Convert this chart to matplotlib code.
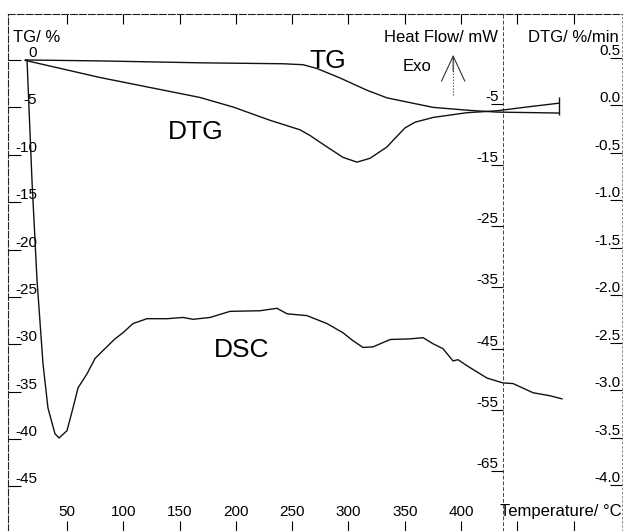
import matplotlib
matplotlib.use("Agg")
import matplotlib.pyplot as plt

plt.rcParams['font.family'] = ['Liberation Sans', 'DejaVu Sans']
plt.rcParams['axes.unicode_minus'] = False

# TG: mass change (%) vs temperature (°C)
tg_temp = [13, 79.3, 168.1, 241.8, 259.6, 272.0, 292.5, 316.5, 334.2, 354.6,
           375.1, 405.3, 431.9, 487.0]
tg_mass = [0.0, -0.1, -0.3, -0.4, -0.5, -0.9, -1.9, -3.2, -4.0, -4.5,
           -5.0, -5.3, -5.5, -5.6]

# DTG: %/min
dtg_temp = [13, 79.3, 168.1, 197.4, 230.3, 256.9, 265.8, 280.9, 295.1, 307.5,
            319.1, 334.2, 341.3, 350.2, 359.1, 375.1, 405.3, 431.9, 458.5, 487.0]
dtg_rate = [0.47, 0.29, 0.08, -0.02, -0.16, -0.26, -0.32, -0.44, -0.55, -0.60,
            -0.56, -0.44, -0.35, -0.24, -0.18, -0.13, -0.08, -0.06, -0.02, 0.02]

# DSC: heat flow (mW)
dsc_temp = [14.5, 18.9, 23.4, 28.7, 33.1, 39.3, 42.9, 50.0, 55.3, 59.8,
            67.8, 74.9, 82.0, 92.6, 99.7, 108.6, 121.0, 138.8, 153.0, 161.9,
            177.0, 194.8, 221.4, 236.5, 245.4, 263.1, 280.9, 295.1, 304.0, 312.9,
            321.8, 337.0, 354.6, 366.2, 375.1, 383.9, 392.8, 397.3, 405.3, 423.0,
            437.2, 446.1, 463.9, 479.0, 489.6]
dsc_flow = [2.2, -17.5, -33.9, -47.5, -54.7, -58.9, -59.6, -58.4, -54.7, -51.4,
            -49.1, -46.6, -45.3, -43.4, -42.4, -40.9, -40.1, -40.1, -39.9, -40.2,
            -39.9, -38.9, -38.8, -38.4, -39.3, -39.6, -40.9, -42.4, -43.7, -44.8,
            -44.7, -43.5, -43.4, -43.2, -44.2, -45.0, -47.0, -46.8, -47.8, -49.8,
            -50.6, -50.7, -52.2, -52.7, -53.2]

# end-of-run marker (TG scale)
end_temp = 487.0
end_lo, end_hi = -5.8, -3.9

x_ticks = [50, 100, 150, 200, 250, 300, 350, 400, 450, 500]
x_labels = ['50', '100', '150', '200', '250', '300', '350', '400', '', '']
tg_ticks = [0, -5, -10, -15, -20, -25, -30, -35, -40, -45]
hf_ticks = [-5, -15, -25, -35, -45, -55, -65]
dtg_ticks = [0.5, 0.0, -0.5, -1.0, -1.5, -2.0, -2.5, -3.0, -3.5, -4.0]

fig = plt.figure(figsize=(6.25, 5.31), dpi=100)
ax = fig.add_axes([8/625, 0, 614/625, 517/531])
ax2 = ax.twinx()
ax3 = ax.twinx()

frame = dict(color='#222222', linewidth=0.8, linestyle=(0, (6, 2)))
lc = '#111111'
lw = 1.0

# main axis: temperature + TG
ax.set_xlim(-2.4, 542.9)
ax.set_ylim(-49.7, 4.85)
ax.plot(tg_temp, tg_mass, color=lc, lw=lw)
ax.vlines(end_temp, end_lo, end_hi, color=lc, lw=lw)
for s in ['right', 'bottom']:
    ax.spines[s].set_visible(False)
for s in ['left', 'top']:
    ax.spines[s].set(**frame)
ax.set_xticks(x_ticks, x_labels)
ax.tick_params(axis='x', direction='in', length=7, width=0.8, top=True,
               bottom=True, labelsize=11, pad=-19)
ax.set_yticks(tg_ticks, [str(t) for t in tg_ticks])
ax.tick_params(axis='y', direction='in', length=9, width=0.8, labelsize=11, pad=-21)
for t in ax.get_yticklabels():
    t.set_va('bottom')

# heat flow axis (inner)
ax2.set_ylim(-74.8, 9.7)
ax2.plot(dsc_temp, dsc_flow, color=lc, lw=lw)
for s in ['left', 'top', 'bottom']:
    ax2.spines[s].set_visible(False)
ax2.spines['right'].set_position(('axes', 0.806))
ax2.spines['right'].set(color='#444444', linewidth=0.7, linestyle=(0, (3, 3)))
ax2.set_yticks(hf_ticks, [str(t) for t in hf_ticks])
ax2.tick_params(axis='y', direction='in', length=9, width=0.8, labelsize=11, pad=-3)
for t in ax2.get_yticklabels():
    t.set_ha('right')
    t.set_va('bottom')

# DTG axis (right)
ax3.set_ylim(-4.48, 0.958)
ax3.plot(dtg_temp, dtg_rate, color=lc, lw=lw)
for s in ['left', 'top', 'bottom']:
    ax3.spines[s].set_visible(False)
ax3.spines['right'].set(color='#777777', linewidth=0.6, linestyle=(0, (2, 3)))
ax3.set_yticks(dtg_ticks, ['%.1f' % t for t in dtg_ticks])
ax3.tick_params(axis='y', direction='in', length=9, width=0.8, labelsize=11, pad=-1)
for t in ax3.get_yticklabels():
    t.set_ha('right')
    t.set_va('bottom')

# titles and labels
ax.text(0.008, 0.955, 'TG/ %', transform=ax.transAxes, fontsize=12, va='center')
ax.text(0.798, 0.955, 'Heat Flow/ mW', transform=ax.transAxes, fontsize=12,
        va='center', ha='right')
ax.text(0.995, 0.955, 'DTG/ %/min', transform=ax.transAxes, fontsize=12,
        va='center', ha='right')
ax.text(0.666, 0.899, 'Exo', transform=ax.transAxes, fontsize=12,
        va='center', ha='center')
# Exo arrow: dotted shaft, open solid head
ax.plot([0.725, 0.725], [0.843, 0.915], transform=ax.transAxes,
        color='#333333', lw=0.8, ls=':')
ax.annotate('', xy=(0.725, 0.921), xytext=(0.725, 0.890),
            xycoords='axes fraction', textcoords='axes fraction',
            arrowprops=dict(arrowstyle='->,head_length=1.5,head_width=0.7',
                            lw=0.8, color='#333333', shrinkA=0, shrinkB=0,
                            mutation_scale=12))
ax.text(0.999, 0.037, 'Temperature/ °C', transform=ax.transAxes, fontsize=12,
        va='center', ha='right')

ax.text(0.521, 0.909, 'TG', transform=ax.transAxes, fontsize=19,
        va='center', ha='center')
ax.text(0.305, 0.772, 'DTG', transform=ax.transAxes, fontsize=19,
        va='center', ha='center')
ax.text(0.381, 0.350, 'DSC', transform=ax.transAxes, fontsize=19,
        va='center', ha='center')

fig.savefig('out.png', dpi=100)
